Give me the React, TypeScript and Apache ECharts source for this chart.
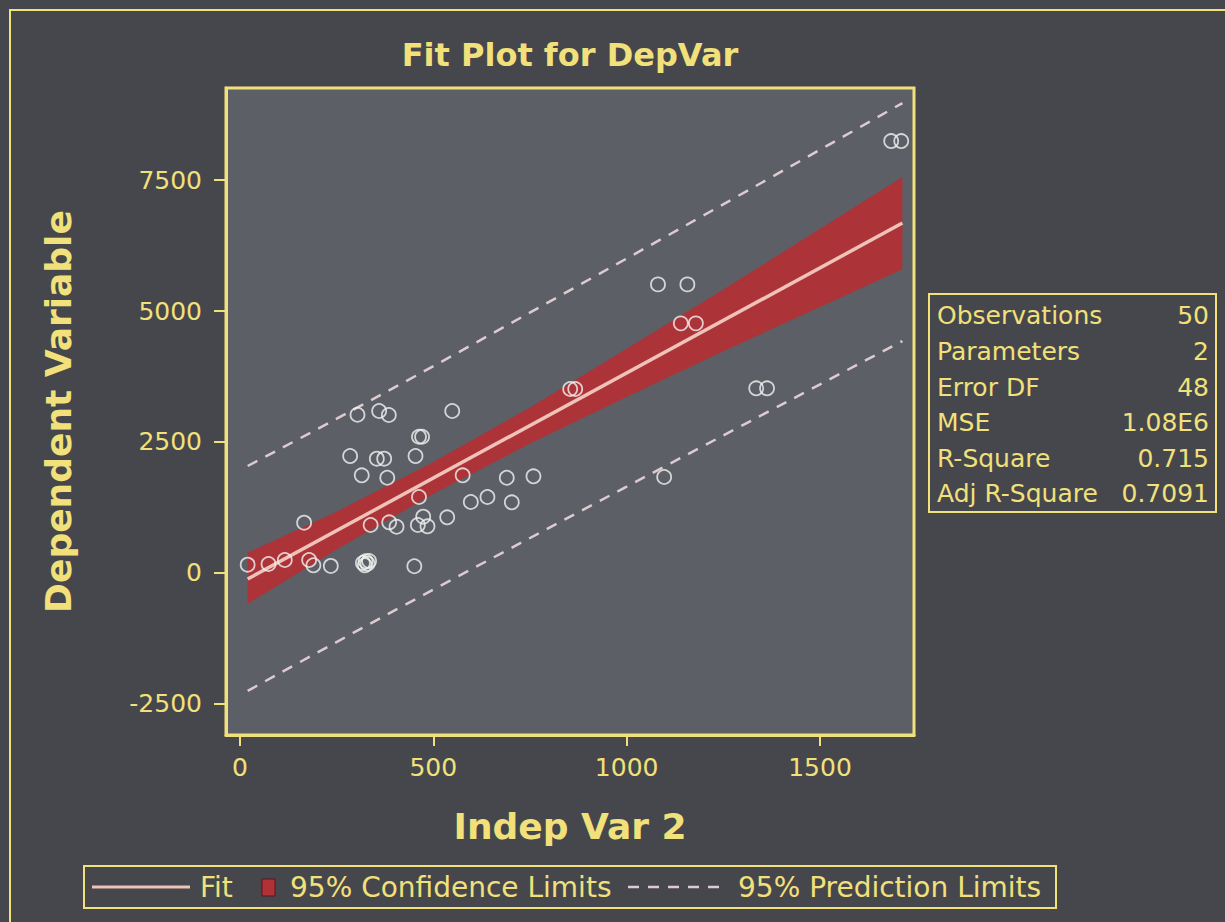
import React, { useEffect, useRef } from "react";
import * as echarts from "echarts";

// Observations (Indep Var 2, Dependent Variable)
const obsX = [20, 74, 116, 179, 190, 235, 166, 304, 360, 385, 549, 463, 471, 285, 354, 373, 454, 315, 381, 576, 690, 759, 463, 597, 640, 703, 338, 386, 405, 474, 460, 485, 536, 325, 330, 323, 334, 318, 451, 854, 867, 1081, 1157, 1140, 1179, 1335, 1363, 1097, 1684, 1710];
const obsY = [158, 172, 248, 248, 147, 134, 960, 3020, 3091, 3015, 3091, 2600, 2600, 2232, 2181, 2181, 2232, 1864, 1818, 1864, 1818, 1845, 1450, 1355, 1450, 1349, 916, 967, 883, 1074, 916, 891, 1063, 223, 177, 147, 229, 190, 128, 3511, 3511, 5508, 5508, 4764, 4764, 3524, 3524, 1832, 8243, 8243];

// Fit line
const fitX = [20, 1713];
const fitY = [-114, 6678];

// 95% confidence band
const bandX = [20, 250, 500, 750, 1000, 1250, 1500, 1713];
const bandLower = [-590, 449, 1507, 2470, 3358, 4230, 5078, 5798];
const bandUpper = [390, 1169, 2117, 3160, 4278, 5410, 6568, 7558];

// 95% prediction limits
const predX = [20, 550, 1713];
const predUpper = [2042, 4150, 8968];
const predLower = [-2251, -120, 4427];

const xTicks = [0, 500, 1000, 1500];
const yTicks = [-2500, 0, 2500, 5000, 7500];

const statLabels = ["Observations", "Parameters", "Error DF", "MSE", "R-Square", "Adj R-Square"];
const statValues = ["50", "2", "48", "1.08E6", "0.715", "0.7091"];

const legendNames = ["Fit", "95% Confidence Limits", "95% Prediction Limits"];

const YELLOW = "#f2e07a";
const FONT = "DejaVu Sans";
const FIT_COLOR = "#f0c2b8";
const BAND_COLOR = "#b03236";
const PRED_COLOR = "#dccbd0";

export default function App() {
  const ref = useRef<HTMLDivElement>(null);
  useEffect(() => {
    const chart = echarts.init(ref.current!, null, { renderer: "svg" });
    const zip = (xs: number[], ys: number[]) => xs.map((x, i) => [x, ys[i]]);
    const rowY = [315, 351, 387, 422, 458, 493];

    const graphic: any[] = [
      {
        type: "rect",
        shape: { x: 10, y: 10, width: 1300, height: 1000 },
        style: { fill: "none", stroke: YELLOW, lineWidth: 2 },
        silent: true,
      },
      {
        type: "text",
        x: 570,
        y: 55,
        style: {
          text: "Fit Plot for DepVar",
          fill: YELLOW,
          font: `bold 32px "${FONT}"`,
          textAlign: "center",
          textVerticalAlign: "middle",
        },
      },
      {
        type: "rect",
        shape: { x: 929, y: 294, width: 287, height: 218 },
        style: { fill: "none", stroke: YELLOW, lineWidth: 2 },
      },
      ...statLabels.map((t, i) => ({
        type: "text",
        x: 937,
        y: rowY[i],
        style: { text: t, fill: YELLOW, font: `25px "${FONT}"`, textAlign: "left", textVerticalAlign: "middle" },
      })),
      ...statValues.map((t, i) => ({
        type: "text",
        x: 1209,
        y: rowY[i],
        style: { text: t, fill: YELLOW, font: `25px "${FONT}"`, textAlign: "right", textVerticalAlign: "middle" },
      })),
      // legend
      {
        type: "rect",
        shape: { x: 84, y: 866, width: 972, height: 42 },
        style: { fill: "none", stroke: YELLOW, lineWidth: 2 },
      },
      {
        type: "line",
        shape: { x1: 92, y1: 887, x2: 190, y2: 887 },
        style: { stroke: FIT_COLOR, lineWidth: 3 },
      },
      {
        type: "text",
        x: 200,
        y: 887,
        style: { text: legendNames[0], fill: YELLOW, font: `28px "${FONT}"`, textVerticalAlign: "middle" },
      },
      {
        type: "rect",
        shape: { x: 262, y: 879, width: 13, height: 17 },
        style: { fill: BAND_COLOR, stroke: "#5a1418", lineWidth: 1 },
      },
      {
        type: "text",
        x: 290,
        y: 887,
        style: { text: legendNames[1], fill: YELLOW, font: `28px "${FONT}"`, textVerticalAlign: "middle" },
      },
      {
        type: "line",
        shape: { x1: 628, y1: 887, x2: 722, y2: 887 },
        style: { stroke: PRED_COLOR, lineWidth: 2.5, lineDash: [11, 9] },
      },
      {
        type: "text",
        x: 738,
        y: 887,
        style: { text: legendNames[2], fill: YELLOW, font: `28px "${FONT}"`, textVerticalAlign: "middle" },
      },
    ];

    const option: any = {
      animation: false,
      backgroundColor: "#45474d",
      textStyle: { fontFamily: FONT },
      grid: {
        left: 226,
        top: 88,
        width: 688,
        height: 647,
        show: true,
        backgroundColor: "#5c5f65",
        borderColor: YELLOW,
        borderWidth: 3,
      },
      xAxis: {
        type: "value",
        min: -36,
        max: 1743,
        name: "Indep Var 2",
        nameLocation: "middle",
        nameGap: 73,
        nameTextStyle: { color: YELLOW, fontFamily: FONT, fontWeight: "bold", fontSize: 36 },
        axisLine: { show: true, onZero: false, lineStyle: { color: YELLOW, width: 3 } },
        axisTick: { show: true, length: 11, lineStyle: { color: YELLOW, width: 2 }, customValues: xTicks },
        axisLabel: {
          color: YELLOW,
          fontFamily: FONT,
          fontSize: 25,
          margin: 20,
          customValues: xTicks,
          formatter: (v: number) => String(v),
        },
        splitLine: { show: false },
      },
      yAxis: {
        type: "value",
        min: -3092,
        max: 9256,
        name: "Dependent Variable",
        nameLocation: "middle",
        nameGap: 150,
        nameTextStyle: { color: YELLOW, fontFamily: FONT, fontWeight: "bold", fontSize: 36 },
        axisLine: { show: true, onZero: false, lineStyle: { color: YELLOW, width: 3 } },
        axisTick: { show: true, length: 12, lineStyle: { color: YELLOW, width: 2 }, customValues: yTicks },
        axisLabel: {
          color: YELLOW,
          fontFamily: FONT,
          fontSize: 25,
          margin: 24,
          customValues: yTicks,
          formatter: (v: number) => String(v),
        },
        splitLine: { show: false },
      },
      series: [
        {
          type: "custom",
          name: legendNames[1],
          silent: true,
          z: 1,
          clip: true,
          data: [[bandX[0], bandLower[0]]],
          renderItem: (params: any, api: any) => {
            if (params.dataIndex !== 0) return null;
            const up = bandX.map((x, i) => api.coord([x, bandUpper[i]]));
            const lo = bandX.map((x, i) => api.coord([x, bandLower[i]])).reverse();
            return {
              type: "polygon",
              shape: { points: up.concat(lo) },
              style: { fill: BAND_COLOR, opacity: 0.95 },
            };
          },
        },
        {
          type: "line",
          name: legendNames[2],
          data: zip(predX, predUpper),
          smooth: true,
          showSymbol: false,
          silent: true,
          z: 2,
          lineStyle: { color: PRED_COLOR, width: 2.5, type: [11, 9] },
        },
        {
          type: "line",
          name: legendNames[2] + " lower",
          data: zip(predX, predLower),
          smooth: true,
          showSymbol: false,
          silent: true,
          z: 2,
          lineStyle: { color: PRED_COLOR, width: 2.5, type: [11, 9] },
        },
        {
          type: "line",
          name: legendNames[0],
          data: zip(fitX, fitY),
          showSymbol: false,
          silent: true,
          z: 3,
          lineStyle: { color: FIT_COLOR, width: 3.5 },
        },
        {
          type: "scatter",
          name: "Observations",
          data: zip(obsX, obsY),
          symbol: "circle",
          symbolSize: 14,
          z: 4,
          itemStyle: { color: "rgba(0,0,0,0)", borderColor: "#f2f2f2", borderWidth: 1.8 },
        },
      ],
      graphic,
    };
    chart.setOption(option);
    return () => chart.dispose();
  }, []);
  return <div ref={ref} style={{ position: "fixed", left: 0, top: 0, width: 1225, height: 922 }} />;
}
